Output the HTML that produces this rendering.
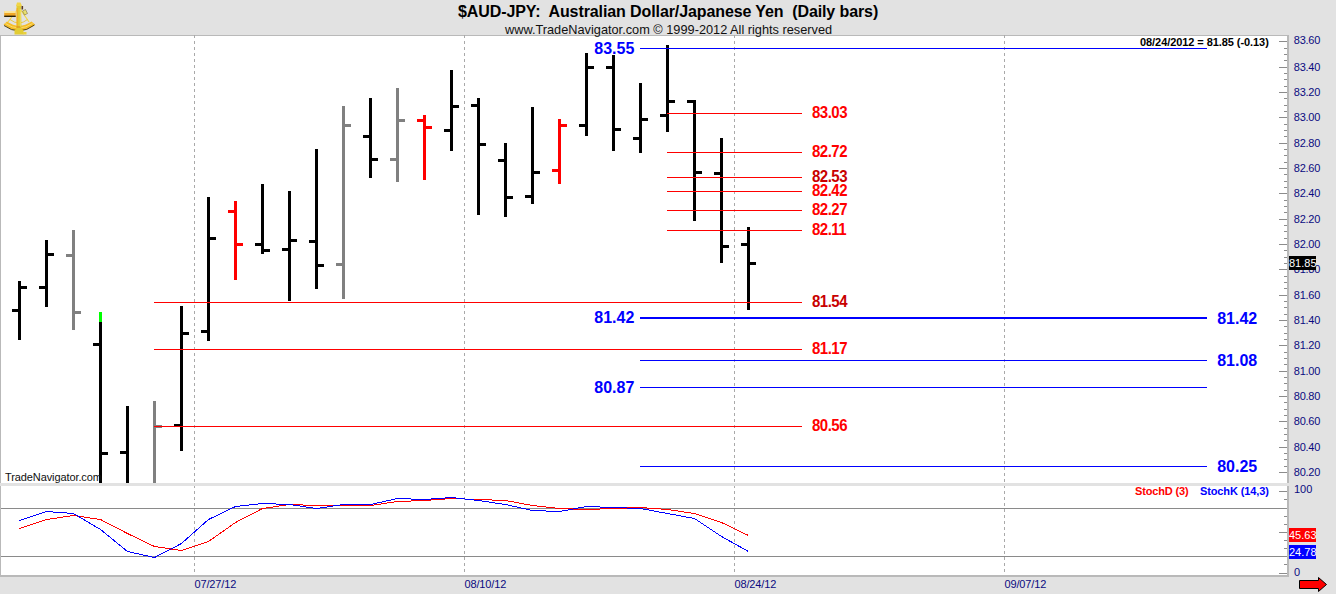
<!DOCTYPE html>
<html><head><meta charset="utf-8"><style>
html,body{margin:0;padding:0;width:1336px;height:594px;overflow:hidden;background:#e2e2e2;}
#root{position:relative;width:1336px;height:594px;}
#root div{position:absolute;white-space:pre;font-family:"Liberation Sans",sans-serif;line-height:1;}
</style></head><body><div id="root">
<svg width="1336" height="594" viewBox="0 0 1336 594" shape-rendering="crispEdges" style="position:absolute;left:0;top:0">
<rect x="0" y="0" width="1336" height="594" fill="#e2e2e2"/>
<rect x="0" y="35" width="1289" height="448" fill="#b9b9b9"/>
<rect x="1" y="36" width="1286" height="447" fill="#ffffff"/>
<rect x="0" y="486" width="1289" height="91" fill="#b9b9b9"/>
<rect x="1" y="486" width="1286" height="89" fill="#ffffff"/>
<line x1="194.5" y1="35" x2="194.5" y2="483" stroke="#a9a9a9" stroke-width="1" stroke-dasharray="3 3"/>
<line x1="194.5" y1="486" x2="194.5" y2="575" stroke="#a9a9a9" stroke-width="1" stroke-dasharray="3 3" stroke-dashoffset="1"/>
<line x1="464.5" y1="35" x2="464.5" y2="483" stroke="#a9a9a9" stroke-width="1" stroke-dasharray="3 3"/>
<line x1="464.5" y1="486" x2="464.5" y2="575" stroke="#a9a9a9" stroke-width="1" stroke-dasharray="3 3" stroke-dashoffset="1"/>
<line x1="734.5" y1="35" x2="734.5" y2="483" stroke="#a9a9a9" stroke-width="1" stroke-dasharray="3 3"/>
<line x1="734.5" y1="486" x2="734.5" y2="575" stroke="#a9a9a9" stroke-width="1" stroke-dasharray="3 3" stroke-dashoffset="1"/>
<line x1="1004.5" y1="35" x2="1004.5" y2="483" stroke="#a9a9a9" stroke-width="1" stroke-dasharray="3 3"/>
<line x1="1004.5" y1="486" x2="1004.5" y2="575" stroke="#a9a9a9" stroke-width="1" stroke-dasharray="3 3" stroke-dashoffset="1"/>
<rect x="1" y="508" width="1283" height="1" fill="#8a8a8a"/>
<rect x="1" y="556" width="1283" height="1" fill="#8a8a8a"/>
<rect x="1279" y="472" width="8" height="1" fill="#8c8c8c"/>
<rect x="1284" y="466" width="3" height="1" fill="#8c8c8c"/>
<rect x="1284" y="459" width="3" height="1" fill="#8c8c8c"/>
<rect x="1284" y="453" width="3" height="1" fill="#8c8c8c"/>
<rect x="1279" y="447" width="8" height="1" fill="#8c8c8c"/>
<rect x="1284" y="440" width="3" height="1" fill="#8c8c8c"/>
<rect x="1284" y="434" width="3" height="1" fill="#8c8c8c"/>
<rect x="1284" y="428" width="3" height="1" fill="#8c8c8c"/>
<rect x="1279" y="421" width="8" height="1" fill="#8c8c8c"/>
<rect x="1284" y="415" width="3" height="1" fill="#8c8c8c"/>
<rect x="1284" y="409" width="3" height="1" fill="#8c8c8c"/>
<rect x="1284" y="402" width="3" height="1" fill="#8c8c8c"/>
<rect x="1279" y="396" width="8" height="1" fill="#8c8c8c"/>
<rect x="1284" y="390" width="3" height="1" fill="#8c8c8c"/>
<rect x="1284" y="383" width="3" height="1" fill="#8c8c8c"/>
<rect x="1284" y="377" width="3" height="1" fill="#8c8c8c"/>
<rect x="1279" y="371" width="8" height="1" fill="#8c8c8c"/>
<rect x="1284" y="364" width="3" height="1" fill="#8c8c8c"/>
<rect x="1284" y="358" width="3" height="1" fill="#8c8c8c"/>
<rect x="1284" y="352" width="3" height="1" fill="#8c8c8c"/>
<rect x="1279" y="345" width="8" height="1" fill="#8c8c8c"/>
<rect x="1284" y="339" width="3" height="1" fill="#8c8c8c"/>
<rect x="1284" y="333" width="3" height="1" fill="#8c8c8c"/>
<rect x="1284" y="326" width="3" height="1" fill="#8c8c8c"/>
<rect x="1279" y="320" width="8" height="1" fill="#8c8c8c"/>
<rect x="1284" y="314" width="3" height="1" fill="#8c8c8c"/>
<rect x="1284" y="307" width="3" height="1" fill="#8c8c8c"/>
<rect x="1284" y="301" width="3" height="1" fill="#8c8c8c"/>
<rect x="1279" y="295" width="8" height="1" fill="#8c8c8c"/>
<rect x="1284" y="288" width="3" height="1" fill="#8c8c8c"/>
<rect x="1284" y="282" width="3" height="1" fill="#8c8c8c"/>
<rect x="1284" y="276" width="3" height="1" fill="#8c8c8c"/>
<rect x="1279" y="269" width="8" height="1" fill="#8c8c8c"/>
<rect x="1284" y="263" width="3" height="1" fill="#8c8c8c"/>
<rect x="1284" y="257" width="3" height="1" fill="#8c8c8c"/>
<rect x="1284" y="250" width="3" height="1" fill="#8c8c8c"/>
<rect x="1279" y="244" width="8" height="1" fill="#8c8c8c"/>
<rect x="1284" y="238" width="3" height="1" fill="#8c8c8c"/>
<rect x="1284" y="231" width="3" height="1" fill="#8c8c8c"/>
<rect x="1284" y="225" width="3" height="1" fill="#8c8c8c"/>
<rect x="1279" y="219" width="8" height="1" fill="#8c8c8c"/>
<rect x="1284" y="212" width="3" height="1" fill="#8c8c8c"/>
<rect x="1284" y="206" width="3" height="1" fill="#8c8c8c"/>
<rect x="1284" y="200" width="3" height="1" fill="#8c8c8c"/>
<rect x="1279" y="193" width="8" height="1" fill="#8c8c8c"/>
<rect x="1284" y="187" width="3" height="1" fill="#8c8c8c"/>
<rect x="1284" y="181" width="3" height="1" fill="#8c8c8c"/>
<rect x="1284" y="174" width="3" height="1" fill="#8c8c8c"/>
<rect x="1279" y="168" width="8" height="1" fill="#8c8c8c"/>
<rect x="1284" y="162" width="3" height="1" fill="#8c8c8c"/>
<rect x="1284" y="155" width="3" height="1" fill="#8c8c8c"/>
<rect x="1284" y="149" width="3" height="1" fill="#8c8c8c"/>
<rect x="1279" y="143" width="8" height="1" fill="#8c8c8c"/>
<rect x="1284" y="136" width="3" height="1" fill="#8c8c8c"/>
<rect x="1284" y="130" width="3" height="1" fill="#8c8c8c"/>
<rect x="1284" y="124" width="3" height="1" fill="#8c8c8c"/>
<rect x="1279" y="117" width="8" height="1" fill="#8c8c8c"/>
<rect x="1284" y="111" width="3" height="1" fill="#8c8c8c"/>
<rect x="1284" y="105" width="3" height="1" fill="#8c8c8c"/>
<rect x="1284" y="98" width="3" height="1" fill="#8c8c8c"/>
<rect x="1279" y="92" width="8" height="1" fill="#8c8c8c"/>
<rect x="1284" y="86" width="3" height="1" fill="#8c8c8c"/>
<rect x="1284" y="79" width="3" height="1" fill="#8c8c8c"/>
<rect x="1284" y="73" width="3" height="1" fill="#8c8c8c"/>
<rect x="1279" y="67" width="8" height="1" fill="#8c8c8c"/>
<rect x="1284" y="60" width="3" height="1" fill="#8c8c8c"/>
<rect x="1284" y="54" width="3" height="1" fill="#8c8c8c"/>
<rect x="1284" y="48" width="3" height="1" fill="#8c8c8c"/>
<rect x="1279" y="41" width="8" height="1" fill="#8c8c8c"/>
<rect x="1279" y="573" width="8" height="1" fill="#8c8c8c"/>
<rect x="1284" y="564" width="3" height="1" fill="#8c8c8c"/>
<rect x="1284" y="556" width="3" height="1" fill="#8c8c8c"/>
<rect x="1284" y="548" width="3" height="1" fill="#8c8c8c"/>
<rect x="1284" y="540" width="3" height="1" fill="#8c8c8c"/>
<rect x="1279" y="532" width="8" height="1" fill="#8c8c8c"/>
<rect x="1284" y="524" width="3" height="1" fill="#8c8c8c"/>
<rect x="1284" y="516" width="3" height="1" fill="#8c8c8c"/>
<rect x="1284" y="508" width="3" height="1" fill="#8c8c8c"/>
<rect x="1284" y="499" width="3" height="1" fill="#8c8c8c"/>
<rect x="1279" y="491" width="8" height="1" fill="#8c8c8c"/>
<rect x="18" y="281" width="3" height="59" fill="#000000"/>
<rect x="12" y="309" width="6" height="3" fill="#000000"/>
<rect x="21" y="286" width="6" height="3" fill="#000000"/>
<rect x="45" y="240" width="3" height="67" fill="#000000"/>
<rect x="39" y="286" width="6" height="3" fill="#000000"/>
<rect x="48" y="253" width="6" height="3" fill="#000000"/>
<rect x="72" y="230" width="3" height="100" fill="#808080"/>
<rect x="66" y="254" width="6" height="3" fill="#808080"/>
<rect x="75" y="311" width="6" height="3" fill="#808080"/>
<rect x="99" y="312" width="3" height="171" fill="#000000"/>
<rect x="93" y="343" width="6" height="3" fill="#000000"/>
<rect x="102" y="452" width="6" height="3" fill="#000000"/>
<rect x="126" y="406" width="3" height="77" fill="#000000"/>
<rect x="120" y="451" width="6" height="3" fill="#000000"/>
<rect x="153" y="401" width="3" height="82" fill="#808080"/>
<rect x="156" y="425" width="6" height="3" fill="#808080"/>
<rect x="180" y="306" width="3" height="145" fill="#000000"/>
<rect x="174" y="424" width="6" height="3" fill="#000000"/>
<rect x="183" y="332" width="6" height="3" fill="#000000"/>
<rect x="207" y="197" width="3" height="144" fill="#000000"/>
<rect x="201" y="330" width="6" height="3" fill="#000000"/>
<rect x="210" y="237" width="6" height="3" fill="#000000"/>
<rect x="234" y="201" width="3" height="79" fill="#ff0000"/>
<rect x="228" y="210" width="6" height="3" fill="#ff0000"/>
<rect x="237" y="243" width="6" height="3" fill="#ff0000"/>
<rect x="261" y="184" width="3" height="70" fill="#000000"/>
<rect x="255" y="243" width="6" height="3" fill="#000000"/>
<rect x="264" y="249" width="6" height="3" fill="#000000"/>
<rect x="288" y="191" width="3" height="110" fill="#000000"/>
<rect x="282" y="248" width="6" height="3" fill="#000000"/>
<rect x="291" y="239" width="6" height="3" fill="#000000"/>
<rect x="315" y="149" width="3" height="140" fill="#000000"/>
<rect x="309" y="240" width="6" height="3" fill="#000000"/>
<rect x="318" y="264" width="6" height="3" fill="#000000"/>
<rect x="342" y="106" width="3" height="193" fill="#808080"/>
<rect x="336" y="263" width="6" height="3" fill="#808080"/>
<rect x="345" y="124" width="6" height="3" fill="#808080"/>
<rect x="369" y="98" width="3" height="80" fill="#000000"/>
<rect x="363" y="135" width="6" height="3" fill="#000000"/>
<rect x="372" y="158" width="6" height="3" fill="#000000"/>
<rect x="396" y="88" width="3" height="94" fill="#808080"/>
<rect x="390" y="158" width="6" height="3" fill="#808080"/>
<rect x="399" y="119" width="6" height="3" fill="#808080"/>
<rect x="423" y="115" width="3" height="65" fill="#ff0000"/>
<rect x="417" y="119" width="6" height="3" fill="#ff0000"/>
<rect x="426" y="126" width="6" height="3" fill="#ff0000"/>
<rect x="450" y="70" width="3" height="81" fill="#000000"/>
<rect x="444" y="129" width="6" height="3" fill="#000000"/>
<rect x="453" y="105" width="6" height="3" fill="#000000"/>
<rect x="477" y="98" width="3" height="117" fill="#000000"/>
<rect x="471" y="104" width="6" height="3" fill="#000000"/>
<rect x="480" y="143" width="6" height="3" fill="#000000"/>
<rect x="504" y="143" width="3" height="74" fill="#000000"/>
<rect x="498" y="159" width="6" height="3" fill="#000000"/>
<rect x="507" y="196" width="6" height="3" fill="#000000"/>
<rect x="531" y="107" width="3" height="97" fill="#000000"/>
<rect x="525" y="195" width="6" height="3" fill="#000000"/>
<rect x="534" y="171" width="6" height="3" fill="#000000"/>
<rect x="558" y="119" width="3" height="65" fill="#ff0000"/>
<rect x="552" y="169" width="6" height="3" fill="#ff0000"/>
<rect x="561" y="124" width="6" height="3" fill="#ff0000"/>
<rect x="585" y="53" width="3" height="83" fill="#000000"/>
<rect x="579" y="124" width="6" height="3" fill="#000000"/>
<rect x="588" y="66" width="6" height="3" fill="#000000"/>
<rect x="612" y="55" width="3" height="96" fill="#000000"/>
<rect x="606" y="66" width="6" height="3" fill="#000000"/>
<rect x="615" y="128" width="6" height="3" fill="#000000"/>
<rect x="639" y="83" width="3" height="70" fill="#000000"/>
<rect x="633" y="137" width="6" height="3" fill="#000000"/>
<rect x="642" y="118" width="6" height="3" fill="#000000"/>
<rect x="666" y="45" width="3" height="87" fill="#000000"/>
<rect x="660" y="114" width="6" height="3" fill="#000000"/>
<rect x="669" y="100" width="6" height="3" fill="#000000"/>
<rect x="693" y="100" width="3" height="121" fill="#000000"/>
<rect x="687" y="100" width="6" height="3" fill="#000000"/>
<rect x="696" y="171" width="6" height="3" fill="#000000"/>
<rect x="720" y="138" width="3" height="125" fill="#000000"/>
<rect x="714" y="172" width="6" height="3" fill="#000000"/>
<rect x="723" y="245" width="6" height="3" fill="#000000"/>
<rect x="747" y="227" width="3" height="83" fill="#000000"/>
<rect x="741" y="243" width="6" height="3" fill="#000000"/>
<rect x="750" y="262" width="6" height="3" fill="#000000"/>
<rect x="99" y="312" width="3" height="10" fill="#00ff00"/>
<rect x="667" y="113" width="135" height="1" fill="#ff0000"/>
<rect x="667" y="152" width="135" height="1" fill="#ff0000"/>
<rect x="667" y="177" width="135" height="1" fill="#ff0000"/>
<rect x="667" y="191" width="135" height="1" fill="#ff0000"/>
<rect x="667" y="210" width="135" height="1" fill="#ff0000"/>
<rect x="667" y="230" width="135" height="1" fill="#ff0000"/>
<rect x="154" y="302" width="648" height="1" fill="#ff0000"/>
<rect x="154" y="349" width="648" height="1" fill="#ff0000"/>
<rect x="154" y="426" width="648" height="1" fill="#ff0000"/>
<rect x="640" y="48" width="567" height="1" fill="#0000ff"/>
<rect x="640" y="360" width="567" height="1" fill="#0000ff"/>
<rect x="640" y="387" width="567" height="1" fill="#0000ff"/>
<rect x="640" y="466" width="567" height="1" fill="#0000ff"/>
<rect x="640" y="317" width="567" height="2" fill="#0000ff"/>
<polyline points="19.5,528.5 46.5,519.5 73.5,515.5 100.5,519.5 127.5,533.5 154.5,546.5 181.5,550.5 208.5,541.5 235.5,522.5 262.5,508.5 289.5,504.5 316.5,505.5 343.5,505.5 370.5,505.5 397.5,501.5 424.5,500.5 451.5,498.5 478.5,499.5 505.5,500.5 532.5,505.5 559.5,508.5 586.5,509.5 613.5,508.5 640.5,507.5 667.5,509.5 694.5,513.5 721.5,522.5 748.5,535.5" fill="none" stroke="#ff0000" stroke-width="1"/>
<polyline points="19.5,520.5 46.5,511.5 73.5,513.5 100.5,529.5 127.5,551.5 154.5,557.5 181.5,543.5 208.5,519.5 235.5,506.5 262.5,503.5 289.5,504.5 316.5,508.5 343.5,504.5 370.5,504.5 397.5,498.5 424.5,499.5 451.5,497.5 478.5,500.5 505.5,504.5 532.5,510.5 559.5,511.5 586.5,506.5 613.5,507.5 640.5,508.5 667.5,513.5 694.5,518.5 721.5,536.5 748.5,551.5" fill="none" stroke="#0000ff" stroke-width="1"/>
<polygon points="1299.5,580.5 1318.5,580.5 1318.5,577.5 1326.5,584.5 1318.5,591.5 1318.5,588.5 1299.5,588.5" fill="#ff0000" stroke="#000" stroke-width="1" shape-rendering="auto"/>
</svg>
<svg width="40" height="36" viewBox="0 0 40 36" style="position:absolute;left:0;top:0">
<path d="M3.5,24.5 L7,21.5 Q19,30 31.5,21.5 L35,24.5 Q19,37 3.5,24.5 Z" fill="#f5bc28"/>
<path d="M4,25.5 Q19,36.5 34.5,25" fill="none" stroke="#3a3008" stroke-width="0.9"/>
<path d="M5.5,23.5 Q19,32.5 32.5,23.5" fill="none" stroke="#f8e070" stroke-width="0.9"/>
<path d="M18.5,8 L8,22 M19.5,8 L29,22" stroke="#f2d848" stroke-width="1.2" fill="none"/>
<path d="M10,19.5 Q19,26.5 27.5,19.5" stroke="#e8c838" stroke-width="0.9" fill="none"/>
<path d="M16.5,5 L21,5 L21.5,29 L23.5,30 L23.5,34.5 L14.5,34.5 L14.5,30 L16.5,29 Z" fill="#e2cc34"/>
<path d="M17.2,8 L17.2,28" stroke="#f8a820" stroke-width="1"/>
<path d="M20.3,9 L20.3,27" stroke="#f8e878" stroke-width="0.7"/>
<path d="M17,2.5 L20.5,2.5 L22,6 L16,6 Z" fill="#f0d448"/>
<rect x="21.5" y="6" width="1.6" height="3.5" fill="#5a3a20"/>
<rect x="4.2" y="11.2" width="11.5" height="5.6" fill="#f0a828"/>
<rect x="4.2" y="11.2" width="11.5" height="1.6" fill="#fff4b0"/>
<rect x="4.2" y="15.6" width="11.5" height="1.4" fill="#2a2008"/>
<path d="M22.5,11 L25.5,9.5 L27.5,13.5 L24.5,15 Z" fill="#e8e070" stroke="#6a5a30" stroke-width="0.5"/>
<rect x="23" y="32" width="3.5" height="2.5" fill="#e8d040"/>
<rect x="16.5" y="26" width="4" height="2" fill="#d89020" opacity="0.6"/>
</svg>
<div style="left:458px;top:4px;font-size:16px;color:#000;font-weight:bold;letter-spacing:-0.1px;">$AUD-JPY:  Australian Dollar/Japanese Yen  (Daily bars)</div><div style="left:505px;top:24px;font-size:12.75px;color:#101010;font-weight:normal;">www.TradeNavigator.com © 1999-2012 All rights reserved</div><div style="left:1140px;top:37px;font-size:11px;color:#000;font-weight:bold;letter-spacing:-0.07px;">08/24/2012 = 81.85 (-0.13)</div><div style="left:5px;top:472px;font-size:11px;color:#101010;font-weight:normal;letter-spacing:-0.1px;">TradeNavigator.com</div><div style="left:1135px;top:486px;font-size:11px;color:#ff0000;font-weight:bold;letter-spacing:-0.15px;">StochD (3)</div><div style="left:1200px;top:486px;font-size:11px;color:#0000ff;font-weight:bold;letter-spacing:-0.12px;">StochK (14,3)</div><div style="left:812px;top:105px;font-size:15px;color:#ff0000;font-weight:bold;letter-spacing:-0.5px;transform:scaleY(1.04);transform-origin:0 13px">83.03</div><div style="left:812px;top:144px;font-size:15px;color:#ff0000;font-weight:bold;letter-spacing:-0.5px;transform:scaleY(1.04);transform-origin:0 13px">82.72</div><div style="left:812px;top:169px;font-size:15px;color:#c80000;font-weight:bold;letter-spacing:-0.5px;transform:scaleY(1.04);transform-origin:0 13px">82.53</div><div style="left:812px;top:183px;font-size:15px;color:#ff0000;font-weight:bold;letter-spacing:-0.5px;transform:scaleY(1.04);transform-origin:0 13px">82.42</div><div style="left:812px;top:202px;font-size:15px;color:#ff0000;font-weight:bold;letter-spacing:-0.5px;transform:scaleY(1.04);transform-origin:0 13px">82.27</div><div style="left:812px;top:222px;font-size:15px;color:#ff0000;font-weight:bold;letter-spacing:-0.5px;transform:scaleY(1.04);transform-origin:0 13px">82.11</div><div style="left:812px;top:294px;font-size:15px;color:#c80000;font-weight:bold;letter-spacing:-0.5px;transform:scaleY(1.04);transform-origin:0 13px">81.54</div><div style="left:812px;top:341px;font-size:15px;color:#ff0000;font-weight:bold;letter-spacing:-0.5px;transform:scaleY(1.04);transform-origin:0 13px">81.17</div><div style="left:812px;top:418px;font-size:15px;color:#ff0000;font-weight:bold;letter-spacing:-0.5px;transform:scaleY(1.04);transform-origin:0 13px">80.56</div><div style="left:594.3px;top:41px;font-size:16px;color:#0000ff;font-weight:bold;">83.55</div><div style="left:594.3px;top:310px;font-size:16px;color:#0000ff;font-weight:bold;">81.42</div><div style="left:594.3px;top:380px;font-size:16px;color:#0000ff;font-weight:bold;">80.87</div><div style="left:1217.2px;top:311px;font-size:16px;color:#0000ff;font-weight:bold;">81.42</div><div style="left:1217.2px;top:353px;font-size:16px;color:#0000ff;font-weight:bold;">81.08</div><div style="left:1217.2px;top:459px;font-size:16px;color:#0000ff;font-weight:bold;">80.25</div><div style="left:1293.8px;top:467px;font-size:11px;color:#0a0a80;font-weight:normal;letter-spacing:-0.25px;">80.20</div><div style="left:1293.8px;top:442px;font-size:11px;color:#0a0a80;font-weight:normal;letter-spacing:-0.25px;">80.40</div><div style="left:1293.8px;top:416px;font-size:11px;color:#0a0a80;font-weight:normal;letter-spacing:-0.25px;">80.60</div><div style="left:1293.8px;top:391px;font-size:11px;color:#0a0a80;font-weight:normal;letter-spacing:-0.25px;">80.80</div><div style="left:1293.8px;top:366px;font-size:11px;color:#0a0a80;font-weight:normal;letter-spacing:-0.25px;">81.00</div><div style="left:1293.8px;top:340px;font-size:11px;color:#0a0a80;font-weight:normal;letter-spacing:-0.25px;">81.20</div><div style="left:1293.8px;top:315px;font-size:11px;color:#0a0a80;font-weight:normal;letter-spacing:-0.25px;">81.40</div><div style="left:1293.8px;top:290px;font-size:11px;color:#0a0a80;font-weight:normal;letter-spacing:-0.25px;">81.60</div><div style="left:1293.8px;top:264px;font-size:11px;color:#0a0a80;font-weight:normal;letter-spacing:-0.25px;">81.80</div><div style="left:1293.8px;top:239px;font-size:11px;color:#0a0a80;font-weight:normal;letter-spacing:-0.25px;">82.00</div><div style="left:1293.8px;top:214px;font-size:11px;color:#0a0a80;font-weight:normal;letter-spacing:-0.25px;">82.20</div><div style="left:1293.8px;top:188px;font-size:11px;color:#0a0a80;font-weight:normal;letter-spacing:-0.25px;">82.40</div><div style="left:1293.8px;top:163px;font-size:11px;color:#0a0a80;font-weight:normal;letter-spacing:-0.25px;">82.60</div><div style="left:1293.8px;top:138px;font-size:11px;color:#0a0a80;font-weight:normal;letter-spacing:-0.25px;">82.80</div><div style="left:1293.8px;top:112px;font-size:11px;color:#0a0a80;font-weight:normal;letter-spacing:-0.25px;">83.00</div><div style="left:1293.8px;top:87px;font-size:11px;color:#0a0a80;font-weight:normal;letter-spacing:-0.25px;">83.20</div><div style="left:1293.8px;top:62px;font-size:11px;color:#0a0a80;font-weight:normal;letter-spacing:-0.25px;">83.40</div><div style="left:1293.8px;top:35px;font-size:11px;color:#0a0a80;font-weight:normal;letter-spacing:-0.25px;">83.60</div><div style="left:1294px;top:484px;font-size:11px;color:#0a0a80;font-weight:normal;">100</div><div style="left:1294px;top:567px;font-size:11px;color:#0a0a80;font-weight:normal;">0</div><div style="left:1289px;top:528px;width:27px;height:14px;background:#ff0000"></div><div style="left:1289px;top:545px;width:27px;height:14px;background:#0000ff"></div><div style="left:1289px;top:256px;width:27px;height:14px;background:#000000"></div><div style="left:1289px;top:530px;font-size:11px;color:#fff;font-weight:normal;width:27px;overflow:hidden">45.63</div><div style="left:1289px;top:547px;font-size:11px;color:#fff;font-weight:normal;width:27px;overflow:hidden">24.78</div><div style="left:1289px;top:258px;font-size:11px;color:#fff;font-weight:normal;width:27px;overflow:hidden">81.85</div><div style="left:194.5px;top:579px;font-size:11px;color:#0a0a80;font-weight:normal;letter-spacing:-0.15px;">07/27/12</div><div style="left:464.5px;top:579px;font-size:11px;color:#0a0a80;font-weight:normal;letter-spacing:-0.15px;">08/10/12</div><div style="left:734.5px;top:579px;font-size:11px;color:#0a0a80;font-weight:normal;letter-spacing:-0.15px;">08/24/12</div><div style="left:1004.5px;top:579px;font-size:11px;color:#0a0a80;font-weight:normal;letter-spacing:-0.15px;">09/07/12</div>
</div></body></html>
